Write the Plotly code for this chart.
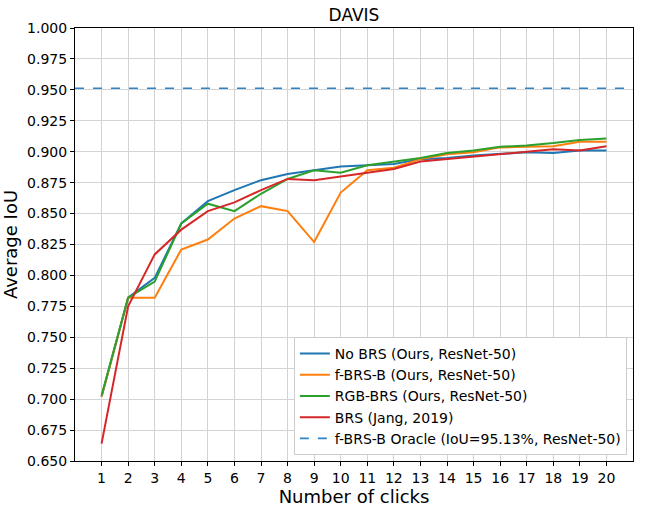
import plotly.graph_objects as go

clicks = list(range(1, 21))

# 各方法 mIoU
no_brs = [0.702, 0.782, 0.798, 0.842, 0.860, 0.869, 0.877, 0.882, 0.885, 0.888,
          0.889, 0.890, 0.894, 0.895, 0.897, 0.898, 0.8995, 0.899, 0.901, 0.901]
f_brs_b = [0.702, 0.782, 0.782, 0.821, 0.829, 0.846, 0.856, 0.852, 0.827, 0.867,
           0.885, 0.887, 0.894, 0.898, 0.8995, 0.9035, 0.904, 0.9045, 0.908, 0.908]
rgb_brs = [0.703, 0.782, 0.795, 0.842, 0.858, 0.852, 0.866, 0.878, 0.885, 0.883,
           0.889, 0.892, 0.895, 0.899, 0.901, 0.904, 0.905, 0.907, 0.9095, 0.9106]
brs_jang = [0.664, 0.775, 0.817, 0.837, 0.852, 0.859, 0.869, 0.878, 0.877, 0.880,
            0.883, 0.886, 0.892, 0.894, 0.8965, 0.898, 0.900, 0.902, 0.901, 0.9045]
oracle = 0.9513

names = ['No BRS (Ours, ResNet-50)', 'f-BRS-B (Ours, ResNet-50)',
         'RGB-BRS (Ours, ResNet-50)', 'BRS (Jang, 2019)']
colors = ['#1f77b4', '#ff7f0e', '#2ca02c', '#d62728']

fig = go.Figure()
for name, ys, c in zip(names, [no_brs, f_brs_b, rgb_brs, brs_jang], colors):
    fig.add_trace(go.Scatter(x=clicks, y=ys, mode='lines', name=name,
                             line=dict(color=c, width=2)))

fig.add_trace(go.Scatter(x=[0, 21], y=[oracle, oracle], mode='lines',
                         name='f-BRS-B Oracle (IoU=95.13%, ResNet-50)',
                         line=dict(color='#2f84c6', width=1.6, dash='dash')))

ax = dict(showline=True, linecolor='black', linewidth=1, mirror=True,
          showgrid=True, gridcolor='#d3d3d3', gridwidth=1, zeroline=False,
          ticks='outside', ticklen=4, tickcolor='black', automargin=False,
          tickfont=dict(size=14, color='black'))

fig.update_layout(
    width=645, height=512,
    margin=dict(l=75, r=12, t=28, b=51),
    paper_bgcolor='white', plot_bgcolor='white',
    font=dict(family='DejaVu Sans', color='black'),
    title=dict(text='DAVIS', x=0.5, xref='paper', xanchor='center',
               y=0.97, yanchor='middle', font=dict(size=17)),
    xaxis=dict(ax, range=[0, 21], tickvals=clicks,
               title=dict(text='Number of clicks', font=dict(size=18), standoff=4)),
    yaxis=dict(ax, range=[0.65, 1.0], dtick=0.025, tick0=0.65, tickformat='.3f',
               title=dict(text='Average IoU', font=dict(size=18), standoff=6)),
    legend=dict(x=0.989, y=0.014, xanchor='right', yanchor='bottom',
                bgcolor='white', bordercolor='#cccccc', borderwidth=1,
                font=dict(size=14), tracegroupgap=0, itemwidth=30),
    showlegend=True,
)

# 去掉页面默认的 8px 边距，隐藏工具栏
fig.write_html('out.html', config={'displayModeBar': False},
               post_script="document.body.style.margin='0';")
